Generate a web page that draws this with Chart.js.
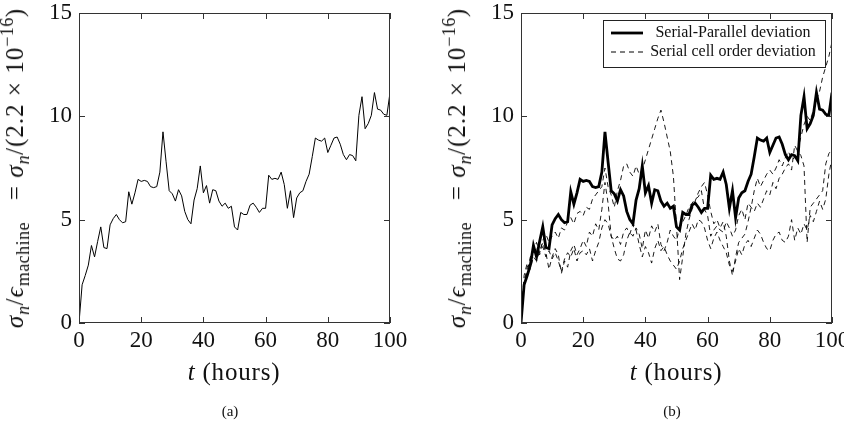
<!DOCTYPE html>
<html>
<head>
<meta charset="utf-8">
<script src="https://cdn.jsdelivr.net/npm/chart.js@4/dist/chart.umd.min.js"></script>
<style>
  html, body { margin: 0; padding: 0; background: #fff; overflow: hidden; width: 844px; height: 436px; }
  #wrap { position: relative; width: 844px; height: 436px; overflow: hidden; }
  canvas { position: absolute; top: 0; }
  .ytitle, .xtitle, .cap { position: absolute; font-family: "Liberation Serif", "DejaVu Serif", serif; color: #111; white-space: nowrap; }
  .ytitle { font-size: 25px; letter-spacing: 1px; transform: translate(-50%, -50%) rotate(-90deg); }
  .ytitle sub { font-size: 18px; vertical-align: -6px; line-height: 0; letter-spacing: 0.5px; }
  .ytitle sup { font-size: 18px; vertical-align: 10px; line-height: 0; letter-spacing: 0.5px; }
  .xtitle { font-size: 25px; letter-spacing: 0.8px; transform: translate(-50%, -50%); }
  .cap { font-size: 15px; transform: translate(-50%, -50%); }
</style>
</head>
<body>
<div id="wrap">
  <canvas id="c1" width="422" height="436" style="left:0"></canvas>
  <canvas id="c2" width="460" height="436" style="left:422px"></canvas>
  <div class="ytitle" style="left:15px; top:168px"><i>σ<sub>n</sub></i>/<i>ϵ</i><sub>machine</sub>&nbsp;&nbsp;&nbsp;= <i>σ<sub>n</sub></i>/(2.2 × 10<sup>−16</sup>)</div>
  <div class="ytitle" style="left:457px; top:168px"><i>σ<sub>n</sub></i>/<i>ϵ</i><sub>machine</sub>&nbsp;&nbsp;&nbsp;= <i>σ<sub>n</sub></i>/(2.2 × 10<sup>−16</sup>)</div>
  <div class="xtitle" style="left:234px; top:372px"><i>t</i> (hours)</div>
  <div class="xtitle" style="left:676px; top:372px"><i>t</i> (hours)</div>
  <div class="cap" style="left:230px; top:411px">(a)</div>
  <div class="cap" style="left:672px; top:411px">(b)</div>
</div>
<script>
const hours = [0,1,2,3,4,5,6,7,8,9,10,11,12,13,14,15,16,17,18,19,20,21,22,23,24,25,26,27,28,29,30,31,32,33,34,35,36,37,38,39,40,41,42,43,44,45,46,47,48,49,50,51,52,53,54,55,56,57,58,59,60,61,62,63,64,65,66,67,68,69,70,71,72,73,74,75,76,77,78,79,80,81,82,83,84,85,86,87,88,89,90,91,92,93,94,95,96,97,98,99,100];

const yTicks = [0, 5, 10, 15];
const xTicks = [0, 20, 40, 60, 80, 100];

const serialParallel = [
  0, 1.85, 2.3, 2.8, 3.75, 3.2, 3.95, 4.65, 3.65, 3.6,
  4.75, 5.05, 5.25, 5.0, 4.85, 4.9, 6.35, 5.75, 6.3, 6.95,
  6.85, 6.9, 6.85, 6.6, 6.55, 6.6, 7.3, 9.25, 7.8, 6.4,
  6.25, 5.9, 6.45, 6.15, 5.4, 5.0, 4.8, 5.95, 6.5, 7.6,
  6.3, 6.65, 5.8, 6.45, 6.4, 5.9, 5.65, 5.8, 5.55, 5.65,
  4.65, 4.5, 5.35, 5.25, 5.25, 5.7, 5.8, 5.6, 5.35, 5.55,
  5.55, 7.15, 6.95, 7.0, 6.95, 7.3, 6.7, 5.55, 6.4, 5.1,
  6.05, 6.3, 6.4, 6.85, 7.2, 8.05, 8.95, 8.85, 8.8, 8.95,
  8.25, 8.6, 8.95, 9.0, 8.65, 8.15, 7.9, 8.15, 8.1, 7.85,
  10.05, 10.95, 9.4, 9.65, 10.05, 11.15, 10.35, 10.3, 10.1, 10.05,
  11.15
];

const cellOrderA = [
  0, 2.0, 2.7, 3.0, 3.4, 3.6, 3.3, 4.0, 4.3, 3.9,
  4.2, 4.4, 4.1, 4.6, 4.5, 4.9, 5.1, 4.8, 5.3, 5.4,
  5.2, 5.6, 5.5, 6.0, 6.2, 6.4, 6.6, 7.5, 6.6, 6.2,
  5.6, 6.4, 6.9, 7.6, 7.7, 7.3, 7.1, 7.6, 7.2, 7.4,
  7.9, 8.4, 8.9, 9.4, 9.9, 10.3, 9.7, 9.0, 8.3, 7.1,
  4.7, 2.1, 3.2, 4.3, 5.0, 5.5, 5.9, 6.3, 6.6, 6.8,
  6.2, 5.4, 4.8, 5.0, 4.6, 4.9, 4.2, 3.0, 2.3, 3.2,
  3.9, 4.1, 4.3, 4.9, 5.6, 6.4, 7.0, 6.6, 6.9, 7.2,
  7.4, 7.2, 7.5, 7.9, 7.6, 8.0, 8.3, 7.9, 8.0, 8.4,
  9.0, 9.6, 10.0, 9.8, 10.3, 10.8, 11.2, 11.9, 12.4, 12.9,
  13.6
];

const cellOrderB = [
  0, 2.3, 2.9, 2.6, 3.2, 3.0, 3.5, 3.9, 3.4, 2.6,
  3.2, 3.6, 3.3, 2.4, 3.0, 2.7, 3.5, 3.8, 3.3, 3.6,
  4.0, 3.7, 4.4, 4.2, 4.8, 4.5, 5.5, 6.8, 5.8, 4.2,
  3.6, 3.1, 3.0, 3.3, 4.0, 4.4, 4.2, 4.6, 4.3, 3.6,
  4.5, 4.1, 4.7, 4.4, 4.8, 3.8, 3.5, 3.9, 4.5, 4.2,
  4.0, 4.6, 4.9, 5.2, 5.6, 5.8, 6.0, 6.1, 6.4, 5.5,
  5.2, 4.2, 4.5, 4.7, 4.5, 4.4, 4.9, 4.6, 4.2, 4.5,
  5.2, 5.5, 5.0, 5.8, 5.6, 5.4, 5.8, 5.6, 6.0, 6.4,
  6.2, 6.8, 6.5, 7.0, 7.2, 7.5, 7.7, 7.4, 8.6, 8.3,
  8.1, 7.6, 3.9, 5.6, 5.8, 6.0, 6.2, 6.4, 7.7, 8.2,
  8.4
];

const cellOrderC = [
  0, 1.8, 2.5, 3.2, 3.5, 3.9, 3.4, 3.7, 3.2, 3.5,
  3.1, 3.4, 3.0, 2.5, 3.1, 3.4, 3.2, 3.6, 3.0, 3.4,
  3.5, 3.3, 3.6, 3.0, 3.5, 3.9, 4.6, 5.0, 4.8, 4.2,
  4.0, 4.2, 3.8, 4.4, 4.6, 4.3, 4.8, 4.5, 3.8, 3.2,
  3.7, 3.4, 2.9, 3.6, 4.0, 3.5, 3.7, 3.3, 3.0, 2.8,
  2.6, 3.0, 3.6, 4.0, 4.4, 4.8, 4.5, 5.0, 4.9, 4.6,
  4.0, 3.6, 4.1, 4.4, 4.0, 3.7, 3.4, 2.8, 2.5, 3.0,
  3.6, 3.3, 3.8, 4.0, 3.7, 4.1, 4.5, 4.3, 3.9, 3.6,
  3.5, 4.0, 4.3, 4.4, 4.0, 3.9, 4.2, 5.0, 4.0, 4.6,
  4.3, 4.8, 4.5, 5.2, 4.9, 5.4, 5.9, 5.5, 6.0, 7.2,
  8.0
];

const legendLabels = ['Serial-Parallel deviation', 'Serial cell order deviation'];

const FONT = '"Liberation Serif", "DejaVu Serif", serif';

const frameTicks = {
  id: 'frameTicks',
  afterDraw(chart) {
    const { ctx, chartArea: a, scales: { x, y } } = chart;
    ctx.save();
    ctx.strokeStyle = '#333';
    ctx.lineWidth = 1;
    ctx.beginPath();
    const L = 6;
    xTicks.forEach(v => {
      const px = Math.round(x.getPixelForValue(v)) + 0.5;
      ctx.moveTo(px, a.bottom); ctx.lineTo(px, a.bottom - L);
      ctx.moveTo(px, a.top); ctx.lineTo(px, a.top + L);
    });
    yTicks.forEach(v => {
      const py = Math.round(y.getPixelForValue(v)) + 0.5;
      ctx.moveTo(a.left, py); ctx.lineTo(a.left + L, py);
      ctx.moveTo(a.right, py); ctx.lineTo(a.right - L, py);
    });
    ctx.stroke();
    ctx.strokeRect(Math.round(a.left) + 0.5, Math.round(a.top) + 0.5, Math.round(a.width) - 1, Math.round(a.height) - 1);
    ctx.restore();
  }
};

const boxLegend = {
  id: 'boxLegend',
  afterDraw(chart) {
    if (!chart.options.plugins.boxLegend || !chart.options.plugins.boxLegend.show) return;
    const { ctx, chartArea: a } = chart;
    const bx = a.left + 82, by = a.top + 7, bw = 222, bh = 47;
    ctx.save();
    ctx.fillStyle = '#fff';
    ctx.fillRect(bx, by, bw, bh);
    ctx.strokeStyle = '#222';
    ctx.lineWidth = 1;
    ctx.strokeRect(bx + 0.5, by + 0.5, bw, bh);
    const rows = [by + 13, by + 32];
    ctx.beginPath();
    ctx.lineWidth = 2.8;
    ctx.strokeStyle = '#000';
    ctx.moveTo(bx + 8, rows[0]); ctx.lineTo(bx + 40, rows[0]);
    ctx.stroke();
    ctx.beginPath();
    ctx.lineWidth = 1;
    ctx.setLineDash([5, 4]);
    ctx.moveTo(bx + 8, rows[1]); ctx.lineTo(bx + 40, rows[1]);
    ctx.stroke();
    ctx.setLineDash([]);
    ctx.fillStyle = '#111';
    ctx.font = '16px ' + FONT;
    ctx.textAlign = 'center';
    ctx.textBaseline = 'middle';
    ctx.fillText(legendLabels[0], bx + 130, rows[0]);
    ctx.fillText(legendLabels[1], bx + 130, rows[1]);
    ctx.restore();
  }
};

function baseOptions(yWidth, padRight, showLegend) {
  return {
    responsive: false,
    animation: false,
    devicePixelRatio: 1,
    layout: { padding: { top: 13, right: padRight, bottom: 0, left: 0 } },
    plugins: { legend: { display: false }, tooltip: { enabled: false }, boxLegend: { show: showLegend } },
    elements: { point: { radius: 0 }, line: { tension: 0 } },
    scales: {
      x: {
        type: 'linear', min: 0, max: 100,
        afterFit(s) { s.height = 113; },
        afterBuildTicks(s) { s.ticks = xTicks.map(v => ({ value: v })); },
        grid: { display: false, drawTicks: false },
        border: { display: false },
        ticks: { color: '#111', padding: 4, maxRotation: 0, autoSkip: false, font: { family: FONT, size: 23 } }
      },
      y: {
        type: 'linear', min: 0, max: 15,
        afterFit(s) { s.width = yWidth; s.paddingTop = 0; s.paddingBottom = 0; },
        afterBuildTicks(s) { s.ticks = yTicks.map(v => ({ value: v })); },
        grid: { display: false, drawTicks: false },
        border: { display: false },
        ticks: { color: '#111', padding: 7, autoSkip: false, font: { family: FONT, size: 23 } }
      }
    }
  };
}

new Chart(document.getElementById('c1'), {
  type: 'line',
  data: {
    labels: hours,
    datasets: [{ label: legendLabels[0], data: serialParallel, borderColor: '#000', borderWidth: 1, fill: false }]
  },
  options: baseOptions(79, 32, false),
  plugins: [frameTicks]
});

new Chart(document.getElementById('c2'), {
  type: 'line',
  data: {
    labels: hours,
    datasets: [
      { label: legendLabels[0], data: serialParallel, borderColor: '#000', borderWidth: 2.8, fill: false },
      { label: legendLabels[1], data: cellOrderA, borderColor: '#000', borderWidth: 0.9, borderDash: [5, 4], fill: false },
      { label: legendLabels[1], data: cellOrderB, borderColor: '#000', borderWidth: 0.9, borderDash: [5, 4], fill: false },
      { label: legendLabels[1], data: cellOrderC, borderColor: '#000', borderWidth: 0.9, borderDash: [5, 4], fill: false }
    ]
  },
  options: baseOptions(99, 50, true),
  plugins: [frameTicks, boxLegend]
});
</script>
</body>
</html>
